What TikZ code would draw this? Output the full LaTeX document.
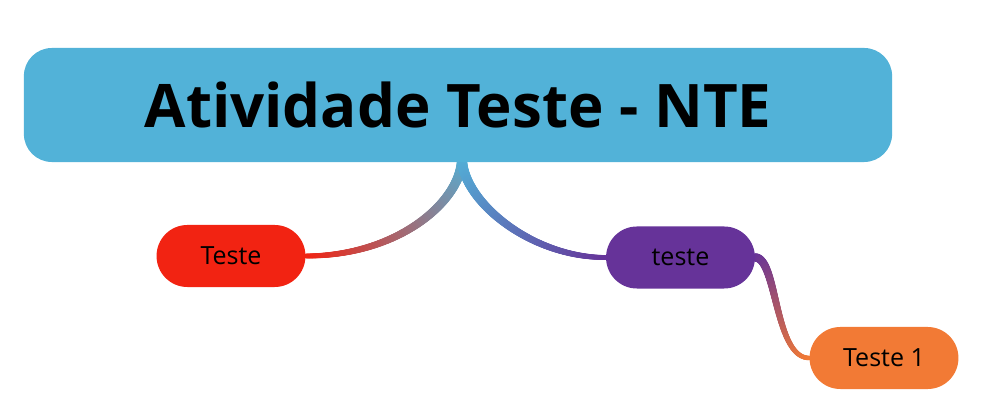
\documentclass[tikz,border=0pt]{standalone}
\usepackage{fontspec}
\setmainfont{Open Sans}
\usetikzlibrary{decorations.markings,backgrounds}
\definecolor{rootblue}{RGB}{82,178,216}
\definecolor{leafred}{RGB}{242,35,18}
\definecolor{leafpurple}{RGB}{102,51,153}
\definecolor{leaforange}{RGB}{242,122,53}
\tikzset{
 taper/.style n args={4}{decoration={markings,
   mark=between positions 0 and 1 step 0.4pt with {
     \pgfmathsetmacro\fr{\pgfkeysvalueof{/pgf/decoration/mark info/distance from start}/\pgfdecoratedpathlength}
     \pgfmathsetmacro\pc{100*\fr}
     \pgfmathsetmacro\rr{#3+(#4-#3)*\fr}
     \colorlet{brc}{#2!\pc!#1}
     \fill[brc] (0,0) circle (\rr pt);}},
   decorate}
}
\begin{document}
\begin{tikzpicture}[x=0.025cm,y=-0.025cm,
 rootbox/.style={fill=rootblue,rounded corners=0.7cm,minimum width=21.7cm,minimum height=2.85cm,inner sep=0pt,font=\fontsize{42.7}{50}\selectfont\bfseries},
 leaf/.style={rounded corners=0.77cm,minimum width=3.72cm,minimum height=1.55cm,inner sep=0pt,font=\fontsize{17.8}{20}\selectfont}]
\useasboundingbox (0,0) rectangle (1000,418);
\node[rootbox] (root) at (458,105) {Atividade Teste - NTE};
\node[leaf,fill=leafred] (l1) at (231,256) {Teste};
\node[leaf,fill=leafpurple] (l2) at (680.5,257.5) {teste};
\node[leaf,fill=leaforange] (l3) at (884,358) {Teste 1};
\coordinate (stem) at (462,158);
\begin{scope}[on background layer]
\path[taper={rootblue}{leafred}{3.6}{1.7}] (stem) .. controls +(0,42) and +(94,0) .. (l1.east);
\path[taper={rootblue}{leafpurple}{3.6}{1.7}] (stem) .. controls +(0,42) and +(-76,0) .. (l2.west);
\path[taper={leafpurple}{leaforange}{3.0}{1.6}] (l2.east) .. controls +(22,0) and +(-35,0) .. (l3.west);
\end{scope}
\end{tikzpicture}
\end{document}
